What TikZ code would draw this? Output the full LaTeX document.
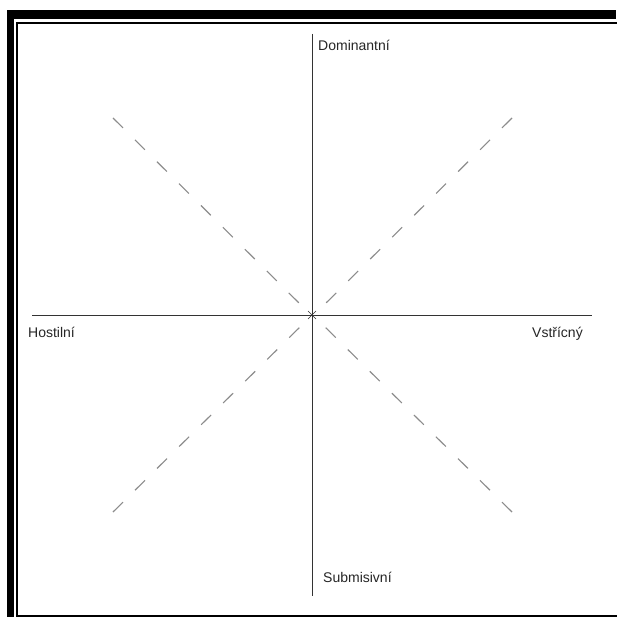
\documentclass[tikz,border=0pt]{standalone}
\usepackage{fontspec}
\setmainfont{Liberation Sans}
\begin{document}
\begin{tikzpicture}[x=1pt,y=-1pt,
  axis/.style={draw=black!80,line width=0.9pt},
  diag/.style={draw=black!45,line width=1.1pt,dash pattern=on 14pt off 17pt},
  lbl/.style={anchor=base west,inner sep=0pt,font=\fontsize{14}{16}\selectfont,text=black!85}]
\useasboundingbox (0,0) rectangle (616,617);
\fill[white] (0,0) rectangle (616,617);
% frame
\fill[black] (7,10) rectangle (616,19);
\fill[black] (7,10) rectangle (14,617);
\draw[black,line width=2pt] (620,23) -- (17,23) -- (17,616) -- (620,616);
% axes
\coordinate (c) at (312,315);
\coordinate (top) at (312,34);
\coordinate (bot) at (312,596);
\coordinate (lft) at (32,315);
\coordinate (rgt) at (592,315);
\draw[axis] (top) -- (bot);
\draw[axis] (lft) -- (rgt);
% center asterisk
\draw[black!80,line width=0.6pt] (308,311) -- (316,319) (316,311) -- (308,319);
% diagonals
\coordinate (ul1) at (113,118); \coordinate (ul2) at (301,305);
\coordinate (ur1) at (512,118); \coordinate (ur2) at (324,305);
\coordinate (ll1) at (113,512); \coordinate (ll2) at (301,326);
\coordinate (lr1) at (512,512); \coordinate (lr2) at (324,326);
\draw[diag] (ul1) -- (ul2);
\draw[diag] (ur1) -- (ur2);
\draw[diag] (ll1) -- (ll2);
\draw[diag] (lr1) -- (lr2);
% labels
\node[lbl] (dom) at (318,51) {Dominantní};
\node[lbl] (hos) at (28,337) {Hostilní};
\node[lbl] (vst) at (532,337) {Vstřícný};
\node[lbl] (sub) at (323,582) {Submisivní};
\end{tikzpicture}
\end{document}
